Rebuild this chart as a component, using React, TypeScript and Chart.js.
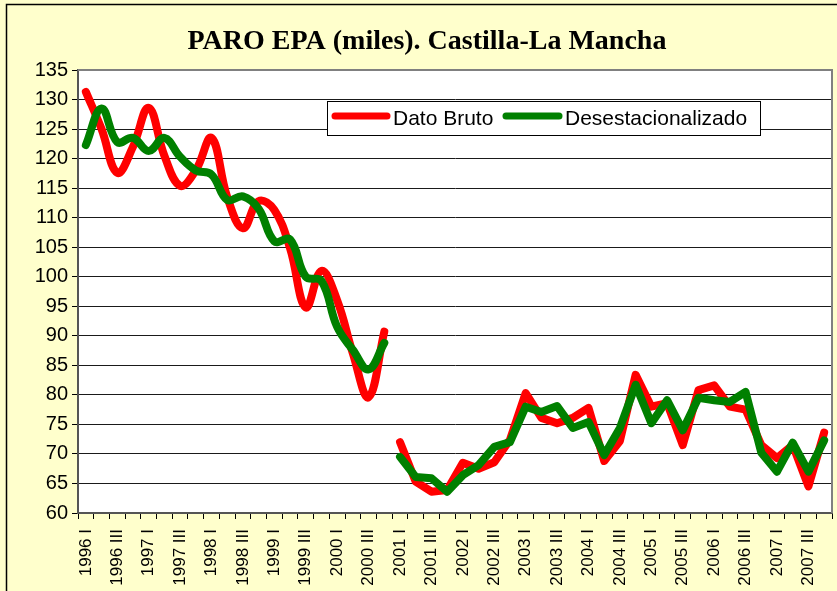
import React, { useEffect, useRef } from "react";
import { Chart, registerables } from "chart.js";

Chart.register(...registerables);

const years = ["1996", "1997", "1998", "1999", "2000", "2001", "2002", "2003", "2004", "2005", "2006", "2007"];
const quarters = ["I", "II", "III", "IV"];
const categories: string[] = years.flatMap((y) => quarters.map((q) => `${y} ${q}`));

// 1996 I – 2000 IV (smoothed series)
const brutoA = [131.3, 125.0, 117.6, 122.0, 128.6, 120.5, 115.4, 118.0, 123.5, 113.5, 108.2, 112.8, 111.3, 104.8, 94.8, 101.0, 96.0, 87.0, 79.6, 90.7];
const desestA = [122.3, 128.5, 122.8, 123.5, 121.3, 123.5, 120.3, 118.0, 117.3, 113.0, 113.6, 111.5, 106.0, 106.3, 100.0, 99.3, 91.5, 87.6, 84.3, 88.8];
// 2001 I – 2007 IV
const brutoB = [72.0, 65.3, 63.6, 63.9, 68.5, 67.5, 68.6, 72.4, 80.3, 76.1, 75.2, 76.1, 77.8, 68.8, 72.2, 83.4, 78.0, 78.6, 71.5, 80.8, 81.6, 78.0, 77.5, 71.5, 69.3, 71.5, 64.5, 73.6];
const desestB = [69.5, 66.1, 65.9, 63.6, 66.4, 68.1, 71.2, 72.0, 78.0, 77.1, 78.1, 74.4, 75.4, 69.8, 74.4, 81.7, 75.2, 79.1, 74.0, 79.5, 79.1, 78.8, 80.5, 70.2, 67.0, 71.9, 67.0, 72.3];

const yMin = 60;
const yMax = 135;
const yStep = 5;

const TITLE = "PARO EPA (miles). Castilla-La Mancha";
const LEGEND = ["Dato Bruto", "Desestacionalizado"];
const RED = "#FF0000";
const GREEN = "#008000";

const padA = (arr: number[]) => [...arr, ...Array(categories.length - arr.length).fill(null)];
const padB = (arr: number[]) => [...Array(categories.length - arr.length).fill(null), ...arr];

const decorPlugin = {
  id: "decor",
  beforeDraw(chart: any) {
    const { ctx, chartArea } = chart;
    ctx.save();
    ctx.fillStyle = "#FFFFCC";
    ctx.fillRect(0, 0, chart.width, chart.height);
    ctx.strokeStyle = "#000";
    ctx.lineWidth = 1.5;
    ctx.strokeRect(6.5, 4.5, chart.width + 20, chart.height + 20);
    ctx.fillStyle = "#FFFFFF";
    ctx.fillRect(chartArea.left, chartArea.top, chartArea.right - chartArea.left, chartArea.bottom - chartArea.top);
    // title
    ctx.fillStyle = "#000";
    ctx.font = "bold 28px 'Liberation Serif', 'Times New Roman', serif";
    ctx.textAlign = "center";
    ctx.textBaseline = "alphabetic";
    ctx.fillText(TITLE, 427, 49);
    ctx.restore();
  },
  afterDraw(chart: any) {
    const { ctx, chartArea } = chart;
    ctx.save();
    // plot border
    ctx.strokeStyle = "#808080";
    ctx.lineWidth = 2;
    ctx.beginPath();
    ctx.moveTo(chartArea.left, chartArea.top);
    ctx.lineTo(chartArea.right, chartArea.top);
    ctx.lineTo(chartArea.right, chartArea.bottom);
    ctx.stroke();
    // legend
    const lx = 327, ly = 101, lw = 433, lh = 34;
    ctx.fillStyle = "#FFFFFF";
    ctx.fillRect(lx, ly, lw, lh);
    ctx.strokeStyle = "#000";
    ctx.lineWidth = 1;
    ctx.strokeRect(lx + 0.5, ly + 0.5, lw, lh);
    ctx.lineCap = "round";
    ctx.lineWidth = 7;
    ctx.strokeStyle = RED;
    ctx.beginPath();
    ctx.moveTo(335, 116);
    ctx.lineTo(387, 116);
    ctx.stroke();
    ctx.strokeStyle = GREEN;
    ctx.beginPath();
    ctx.moveTo(506, 116);
    ctx.lineTo(559, 116);
    ctx.stroke();
    ctx.fillStyle = "#000";
    ctx.font = "21px 'Liberation Sans', Arial, sans-serif";
    ctx.textAlign = "left";
    ctx.textBaseline = "alphabetic";
    ctx.fillText(LEGEND[0], 393, 125);
    ctx.fillText(LEGEND[1], 565, 125);
    ctx.restore();
  },
};

export default function App() {
  const ref = useRef<HTMLCanvasElement | null>(null);

  useEffect(() => {
    if (!ref.current) return;
    const lineBase = {
      pointRadius: 0,
      pointHoverRadius: 0,
      borderWidth: 8,
      borderCapStyle: "round" as const,
      borderJoinStyle: "round" as const,
      spanGaps: false,
      fill: false,
    };
    const chart = new Chart(ref.current, {
      type: "line",
      data: {
        labels: categories,
        datasets: [
          { ...lineBase, label: LEGEND[1], data: padA(desestA), borderColor: GREEN, backgroundColor: GREEN, tension: 0.4 },
          { ...lineBase, label: LEGEND[1], data: padB(desestB), borderColor: GREEN, backgroundColor: GREEN, tension: 0 },
          { ...lineBase, label: LEGEND[0], data: padA(brutoA), borderColor: RED, backgroundColor: RED, tension: 0.4 },
          { ...lineBase, label: LEGEND[0], data: padB(brutoB), borderColor: RED, backgroundColor: RED, tension: 0 },
        ],
      },
      options: {
        animation: false,
        responsive: false,
        maintainAspectRatio: false,
        layout: { padding: { top: 70, left: 0, right: 5, bottom: 0 } },
        plugins: {
          legend: { display: false },
          title: { display: false },
          tooltip: { enabled: false },
        },
        scales: {
          x: {
            type: "category",
            offset: true,
            grid: {
              offset: true,
              drawOnChartArea: false,
              tickLength: 6,
              tickColor: "#000",
              color: "#000",
            },
            border: { color: "#555", width: 2 },
            ticks: {
              autoSkip: false,
              maxRotation: 90,
              minRotation: 90,
              padding: 10,
              color: "#000",
              font: { family: "'Liberation Sans', Arial, sans-serif", size: 17 },
              callback: (_v: any, i: number) => (i % 2 === 0 ? categories[i] : ""),
            },
            afterFit: (scale: any) => {
              scale.height = 78;
              scale.paddingLeft = 0;
              scale.paddingRight = 0;
            },
          },
          y: {
            min: yMin,
            max: yMax,
            grid: {
              color: "#1a1a1a",
              lineWidth: 1,
              tickLength: 6,
              tickColor: "#000",
            },
            border: { color: "#555", width: 2 },
            ticks: {
              stepSize: yStep,
              padding: 4,
              color: "#000",
              font: { family: "'Liberation Sans', Arial, sans-serif", size: 20 },
            },
            afterFit: (scale: any) => {
              scale.width = 78;
              scale.paddingTop = 0;
              scale.paddingBottom = 0;
            },
          },
        },
      },
      plugins: [decorPlugin],
    });
    return () => chart.destroy();
  }, []);

  return (
    <div style={{ position: "absolute", left: 0, top: 0, width: 837, height: 591 }}>
      <canvas ref={ref} width={837} height={591} style={{ width: 837, height: 591, display: "block" }} />
    </div>
  );
}
